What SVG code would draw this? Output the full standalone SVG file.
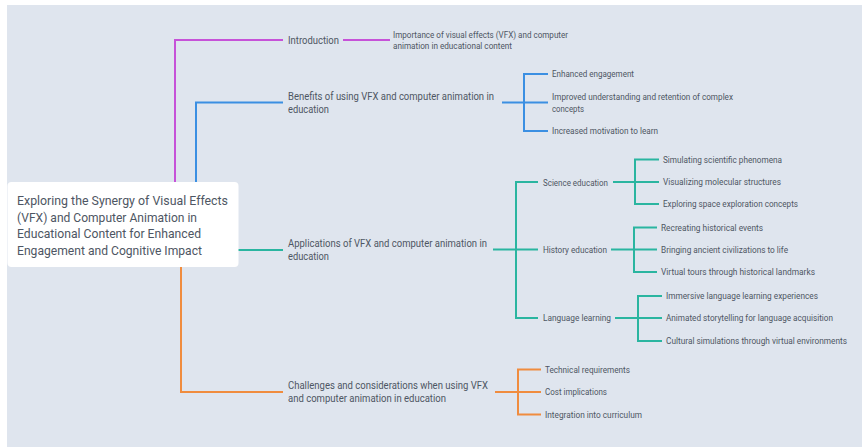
<svg xmlns="http://www.w3.org/2000/svg" width="862" height="447" viewBox="0 0 862 447">
<style>
text{font-family:Roboto,"Liberation Sans",sans-serif;fill:#4e5663;}
.r{font-size:13px;}
.m{font-size:10.5px;}
.s{font-size:8.8px;}
.x{font-size:8.5px;}
.c{fill:none;stroke-width:2;stroke-linejoin:miter;}
.pu{stroke:#c652d8;}
.bl{stroke:#3b8fe2;}
.te{stroke:#2ab5a0;}
.or{stroke:#f08c3e;}
</style>
<rect x="0" y="0" width="862" height="447" fill="#ffffff"/>
<rect x="7" y="5" width="855" height="442" fill="#dfe5ee"/>
<g id="connectors">
<path class="c pu" d="M175 182V40H283M343 40H390"/>
<path class="c bl" d="M196 182V102.5H283M502 102.5H524M548 74H524V131H548M524 102.5H548"/>
<path class="c te" d="M238 250H283M493 249.5H516M538 182H516V318H538M516 249.5H538M613 182H635M659 159.5H635V204H659M635 182H659M611 249.5H634M657 227.5H634V272H657M634 249.5H657M615 318H638M662 296H638V341H662M638 318H662"/>
<path class="c or" d="M181 267V392H283M495 392H518M541 369.5H518V414.5H541M518 392H541"/>
</g>
<g id="root">
<rect x="7.5" y="182" width="231" height="85" rx="4" fill="#ffffff"/>
<text class="r" x="17" y="204.5" textLength="211" lengthAdjust="spacingAndGlyphs">Exploring the Synergy of Visual Effects</text>
<text class="r" x="17" y="221.5" textLength="180" lengthAdjust="spacingAndGlyphs">(VFX) and Computer Animation in</text>
<text class="r" x="17" y="238" textLength="184" lengthAdjust="spacingAndGlyphs">Educational Content for Enhanced</text>
<text class="r" x="17" y="255" textLength="185" lengthAdjust="spacingAndGlyphs">Engagement and Cognitive Impact</text>
</g>
<g id="introduction">
<text class="m" x="288" y="43.7" textLength="51" lengthAdjust="spacingAndGlyphs">Introduction</text>
</g>
<g id="intro-importance">
<text class="x" x="393" y="38" textLength="175" lengthAdjust="spacingAndGlyphs">Importance of visual effects (VFX) and computer</text>
<text class="x" x="393" y="48.7" textLength="119" lengthAdjust="spacingAndGlyphs">animation in educational content</text>
</g>
<g id="benefits">
<text class="m" x="288" y="99.7" textLength="206" lengthAdjust="spacingAndGlyphs">Benefits of using VFX and computer animation in</text>
<text class="m" x="288" y="113.2" textLength="41" lengthAdjust="spacingAndGlyphs">education</text>
</g>
<g id="benefit-engagement"><text class="s" x="552" y="77.2" textLength="82" lengthAdjust="spacingAndGlyphs">Enhanced engagement</text></g>
<g id="benefit-understanding">
<text class="s" x="552" y="99.9" textLength="181" lengthAdjust="spacingAndGlyphs">Improved understanding and retention of complex</text>
<text class="s" x="552" y="111.5" textLength="32" lengthAdjust="spacingAndGlyphs">concepts</text>
</g>
<g id="benefit-motivation"><text class="s" x="552" y="134.2" textLength="106" lengthAdjust="spacingAndGlyphs">Increased motivation to learn</text></g>
<g id="applications">
<text class="m" x="288" y="246.7" textLength="199" lengthAdjust="spacingAndGlyphs">Applications of VFX and computer animation in</text>
<text class="m" x="288" y="260.2" textLength="41" lengthAdjust="spacingAndGlyphs">education</text>
</g>
<g id="science"><text class="s" x="543" y="185.5" textLength="65" lengthAdjust="spacingAndGlyphs">Science education</text></g>
<g id="sci-1"><text class="s" x="663" y="162.7" textLength="119" lengthAdjust="spacingAndGlyphs">Simulating scientific phenomena</text></g>
<g id="sci-2"><text class="s" x="663" y="185.2" textLength="118" lengthAdjust="spacingAndGlyphs">Visualizing molecular structures</text></g>
<g id="sci-3"><text class="s" x="663" y="207.2" textLength="135" lengthAdjust="spacingAndGlyphs">Exploring space exploration concepts</text></g>
<g id="history"><text class="s" x="543" y="252.7" textLength="64" lengthAdjust="spacingAndGlyphs">History education</text></g>
<g id="his-1"><text class="s" x="661" y="230.7" textLength="102" lengthAdjust="spacingAndGlyphs">Recreating historical events</text></g>
<g id="his-2"><text class="s" x="661" y="252.7" textLength="127" lengthAdjust="spacingAndGlyphs">Bringing ancient civilizations to life</text></g>
<g id="his-3"><text class="s" x="661" y="275.2" textLength="154" lengthAdjust="spacingAndGlyphs">Virtual tours through historical landmarks</text></g>
<g id="language"><text class="s" x="543" y="321.2" textLength="68" lengthAdjust="spacingAndGlyphs">Language learning</text></g>
<g id="lang-1"><text class="s" x="666" y="299.2" textLength="152" lengthAdjust="spacingAndGlyphs">Immersive language learning experiences</text></g>
<g id="lang-2"><text class="s" x="666" y="321.2" textLength="167" lengthAdjust="spacingAndGlyphs">Animated storytelling for language acquisition</text></g>
<g id="lang-3"><text class="s" x="666" y="344.2" textLength="181" lengthAdjust="spacingAndGlyphs">Cultural simulations through virtual environments</text></g>
<g id="challenges">
<text class="m" x="288" y="388.7" textLength="200" lengthAdjust="spacingAndGlyphs">Challenges and considerations when using VFX</text>
<text class="m" x="288" y="402.2" textLength="158" lengthAdjust="spacingAndGlyphs">and computer animation in education</text>
</g>
<g id="ch-1"><text class="s" x="545" y="372.7" textLength="85" lengthAdjust="spacingAndGlyphs">Technical requirements</text></g>
<g id="ch-2"><text class="s" x="545" y="395.2" textLength="62" lengthAdjust="spacingAndGlyphs">Cost implications</text></g>
<g id="ch-3"><text class="s" x="545" y="417.7" textLength="97" lengthAdjust="spacingAndGlyphs">Integration into curriculum</text></g>
</svg>
